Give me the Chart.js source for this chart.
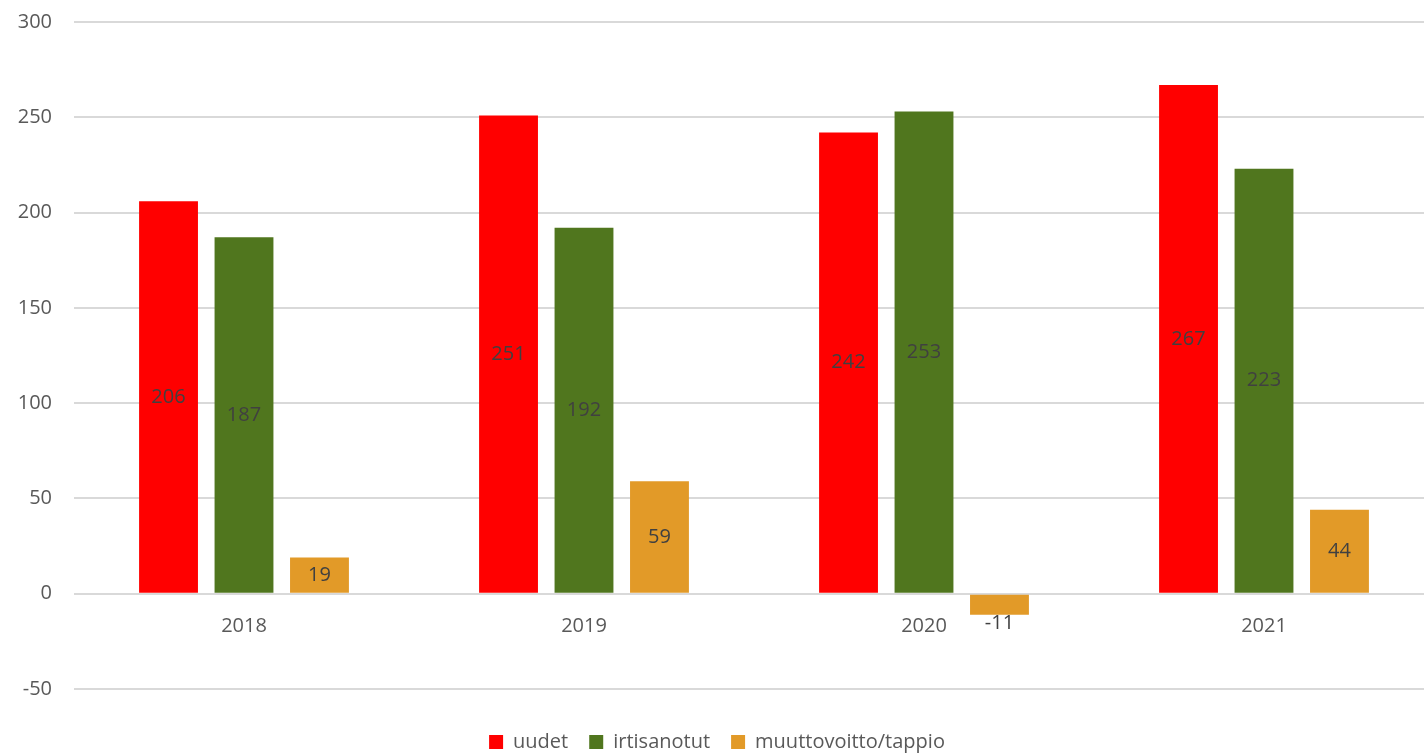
<!DOCTYPE html>
<html>
<head>
<meta charset="utf-8">
<script src="https://cdn.jsdelivr.net/npm/chart.js@4/dist/chart.umd.min.js"></script>
<style>
  html, body { margin: 0; padding: 0; background: #fff; overflow: hidden; }
  #wrap { width: 1434px; height: 762px; position: relative; }
</style>
</head>
<body>
<div id="wrap"><canvas id="myChart"></canvas></div>
<script>
const years = ["2018", "2019", "2020", "2021"];
const uudet = [206, 251, 242, 267];
const irtisanotut = [187, 192, 253, 223];
const muutto = [19, 59, -11, 44];
const yTicks = [-50, 0, 50, 100, 150, 200, 250, 300];

const FONT = "'Open Sans', 'Liberation Sans', sans-serif";

// draws the value in the middle of every bar (below it when negative)
const barLabels = {
  id: "barLabels",
  afterDatasetsDraw(chart) {
    let ctx = chart.ctx;
    ctx.save();
    ctx.font = "20px " + FONT;
    ctx.fillStyle = "#404040";
    ctx.textAlign = "center";
    ctx.textBaseline = "middle";
    chart.data.datasets.forEach((ds, i) => {
      let meta = chart.getDatasetMeta(i);
      meta.data.forEach((bar, j) => {
        let v = ds.data[j];
        let y = v < 0 ? bar.y + 9 : (bar.y + bar.base) / 2;
        ctx.fillText(String(v), bar.x, y);
      });
    });
    ctx.restore();
  }
};

let ctx = document.getElementById("myChart").getContext("2d");
let myChart = new Chart(ctx, {
  type: "bar",
  data: {
    labels: years,
    datasets: [
      { label: "uudet", data: uudet, backgroundColor: "#ff0000" },
      { label: "irtisanotut", data: irtisanotut, backgroundColor: "#50761e" },
      { label: "muuttovoitto/tappio", data: muutto, backgroundColor: "#e29a28" },
    ],
  },
  options: {
    responsive: true,
    maintainAspectRatio: false,
    animation: false,
    layout: { padding: { top: 22, bottom: 0 } },
    datasets: {
      bar: { categoryPercentage: 0.666, barPercentage: 0.78 }
    },
    plugins: {
      tooltip: { enabled: false },
      legend: {
        position: "bottom",
        title: { display: true, text: " ", font: { size: 10 }, padding: 5 },
        labels: {
          boxWidth: 14,
          boxHeight: 14,
          padding: 21,
          color: "#595959",
          font: { family: FONT, size: 20 },
        },
      },
    },
    scales: {
      x: {
        position: { y: 0 },
        grid: { display: false, drawTicks: false },
        border: { display: false },
        ticks: { color: "#595959", font: { family: FONT, size: 20 }, padding: 21 },
      },
      y: {
        min: -50,
        max: 300,
        afterBuildTicks(axis) {
          axis.ticks = yTicks.map((v) => ({ value: v }));
        },
        afterFit(axis) {
          axis.width = 74;
          axis.paddingTop = 0;
          axis.paddingBottom = 0;
        },
        grid: { color: "#d9d9d9", lineWidth: 2, drawTicks: false },
        border: { display: false },
        ticks: { color: "#595959", font: { family: FONT, size: 20 }, padding: 22 },
      },
    },
  },
  plugins: [barLabels],
});
</script>
</body>
</html>
